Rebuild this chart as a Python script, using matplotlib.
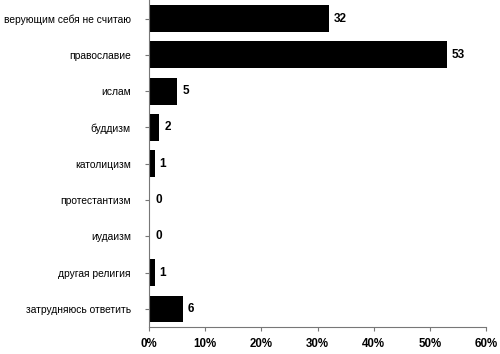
import matplotlib
matplotlib.use('Agg')
import matplotlib.pyplot as plt

categories = ['верующим себя не считаю', 'православие', 'ислам', 'буддизм',
              'католицизм', 'протестантизм', 'иудаизм', 'другая религия',
              'затрудняюсь ответить']
values = [32, 53, 5, 2, 1, 0, 0, 1, 6]
bar_lengths = [32, 53, 5, 1.8, 1, 0.2, 0.2, 1, 6]
xticks = [0, 10, 20, 30, 40, 50, 60]

plt.rcParams['font.family'] = ['Liberation Sans', 'DejaVu Sans']

fig = plt.figure(figsize=(5, 3.54), dpi=100)
ax = fig.add_axes([0.298, 0.076, 0.674, 0.928])

y = list(range(len(categories)))
ax.barh(y, bar_lengths, height=0.74, color='black')
for yi, v, L in zip(y, values, bar_lengths):
    ax.text(L + 0.9, yi, str(v), va='center', ha='left', fontsize=8.5,
            fontweight='bold')

ax.set_ylim(8.5, -0.55)
ax.set_xlim(0, 60)
ax.set_yticks(y)
ax.set_yticklabels(categories, fontsize=7.4)
ax.set_xticks(xticks)
ax.set_xticklabels([f'{t}%' for t in xticks], fontsize=8.3, fontweight='bold')

for s in ['top', 'right']:
    ax.spines[s].set_visible(False)
ax.spines['left'].set_color('#777777')
ax.spines['bottom'].set_color('#777777')
ax.spines['left'].set_linewidth(0.8)
ax.spines['bottom'].set_linewidth(0.8)
ax.tick_params(axis='y', length=3, color='#777777', pad=10)
ax.tick_params(axis='x', length=3, color='#777777', pad=5)

fig.savefig('out.png', dpi=100)
